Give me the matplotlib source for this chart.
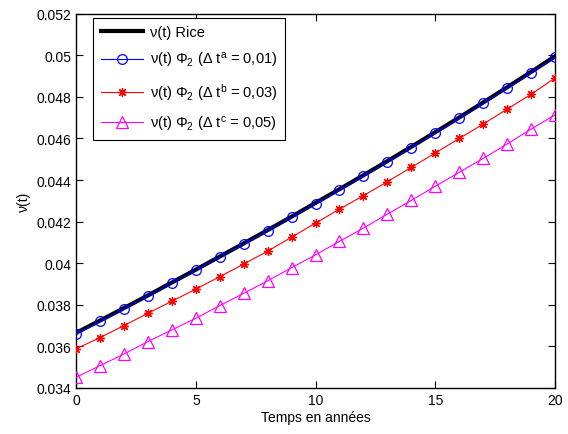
import matplotlib
matplotlib.use("Agg")
import matplotlib.pyplot as plt
import numpy as np

plt.rcParams['font.family'] = ['Liberation Sans', 'DejaVu Sans']
plt.rcParams['mathtext.default'] = 'regular'

years = list(range(0, 21))
rice = [0.03665, 0.03724, 0.03784, 0.03845, 0.03907, 0.03969, 0.04032, 0.04095,
        0.04159, 0.04224, 0.04290, 0.04356, 0.04423, 0.04491, 0.04560, 0.04630,
        0.04701, 0.04773, 0.04846, 0.04920, 0.04995]
phi_a = [0.0366, 0.03720, 0.03781, 0.03843, 0.03905, 0.03967, 0.04030, 0.04093,
         0.04157, 0.04221, 0.04286, 0.04352, 0.04419, 0.04487, 0.04556, 0.04626,
         0.04697, 0.04769, 0.04842, 0.04916, 0.04992]
phi_b = [0.03588, 0.03642, 0.03700, 0.03759, 0.03817, 0.03875, 0.03935, 0.03996,
         0.04058, 0.04125, 0.04193, 0.04260, 0.04325, 0.04392, 0.04461, 0.04530,
         0.04600, 0.04669, 0.04741, 0.04812, 0.04891]
phi_c = [0.03451, 0.03507, 0.03563, 0.03623, 0.03679, 0.03735, 0.03796, 0.03855,
         0.03915, 0.03978, 0.04040, 0.04105, 0.04169, 0.04236, 0.04302, 0.04370,
         0.04437, 0.04504, 0.04573, 0.04645, 0.04713]

labels = ['ν(t) Rice',
          'ν(t) Φ$_2$ (Δ t$^a$ = 0,01)',
          'ν(t) Φ$_2$ (Δ t$^b$ = 0,03)',
          'ν(t) Φ$_2$ (Δ t$^c$ = 0,05)']
xticks = [0, 5, 10, 15, 20]
yticks = [0.034, 0.036, 0.038, 0.04, 0.042, 0.044, 0.046, 0.048, 0.05, 0.052]
ytick_labels = ['0.034', '0.036', '0.038', '0.04', '0.042', '0.044', '0.046', '0.048', '0.05', '0.052']

fig = plt.figure(figsize=(5.68, 4.35), dpi=100)
ax = fig.add_axes([0.134, 0.106, 0.843, 0.86])

ax.plot(years, rice, color='black', lw=3, label=labels[0], zorder=3)
ax.plot(years, phi_a, color='#0000ff', lw=0.8, marker='o', ms=7, mfc='none', mew=0.9, label=labels[1], zorder=4)
ax.plot(years, phi_b, color='#ff0000', lw=0.8, marker=(8, 2, 0), ms=6.5, mew=0.9, label=labels[2], zorder=4)
ax.plot(years, phi_c, color='#ff00ff', lw=0.8, marker='^', ms=8, mfc='none', mew=0.9, label=labels[3], zorder=4)

ax.set_xlim(0, 20)
ax.set_ylim(0.034, 0.052)
ax.set_xticks(xticks)
ax.set_yticks(yticks)
ax.set_yticklabels(ytick_labels)
ax.tick_params(direction='in', top=True, right=True, labelsize=10, length=5, width=0.8)
for s in ax.spines.values():
    s.set_linewidth(1.0)
ax.set_xlabel('Temps en années', fontsize=10, labelpad=2)
ax.set_ylabel('ν(t)', fontsize=10, labelpad=4)

leg = ax.legend(loc='upper left', fontsize=10.5, frameon=True, fancybox=False,
                edgecolor='black', framealpha=1, handlelength=2.9, handletextpad=0.5,
                borderaxespad=0.0, labelspacing=0.8, borderpad=0.5,
                bbox_to_anchor=(0.036, 0.99))
leg.get_frame().set_linewidth(0.8)

fig.savefig('out.png', dpi=100)
